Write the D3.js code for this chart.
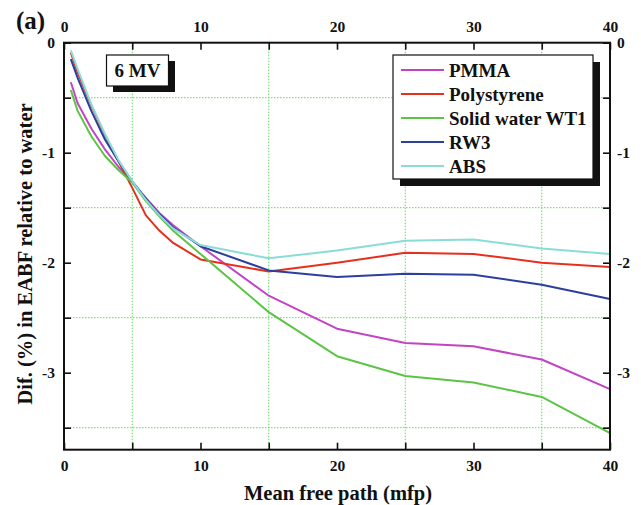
<!DOCTYPE html>
<html>
<head>
<meta charset="utf-8">
<script src="https://cdn.jsdelivr.net/npm/d3@7"></script>
<style>
  html, body { margin: 0; padding: 0; background: #fff; }
  svg { display: block; }
  text { font-family: "Liberation Serif", "Times New Roman", serif; font-weight: bold; fill: #111; }
</style>
</head>
<body>
<script>
// Mean free path depths (mfp)
const mfp = [0.5, 1, 2, 3, 4, 5, 6, 7, 8, 10, 15, 20, 25, 30, 35, 40];

// Difference (%) in EABF relative to water, 6 MV
const pmma        = [-0.36, -0.55, -0.78, -0.97, -1.13, -1.27, -1.41, -1.55, -1.66, -1.85, -2.30, -2.60, -2.73, -2.76, -2.88, -3.15];
const polystyrene = [-0.09, -0.27, -0.57, -0.84, -1.08, -1.32, -1.57, -1.71, -1.82, -1.97, -2.08, -2.00, -1.91, -1.92, -2.00, -2.04];
const solidWater  = [-0.43, -0.62, -0.85, -1.03, -1.16, -1.27, -1.44, -1.58, -1.71, -1.92, -2.45, -2.85, -3.03, -3.09, -3.22, -3.55];
const rw3         = [-0.15, -0.32, -0.62, -0.88, -1.08, -1.26, -1.42, -1.56, -1.68, -1.85, -2.07, -2.13, -2.10, -2.11, -2.20, -2.33];
const abs         = [-0.07, -0.24, -0.56, -0.83, -1.07, -1.26, -1.43, -1.57, -1.69, -1.84, -1.96, -1.89, -1.80, -1.79, -1.87, -1.92];

const seriesNames  = ["PMMA", "Polystyrene", "Solid water WT1", "RW3", "ABS"];
const seriesValues = [pmma, polystyrene, solidWater, rw3, abs];
const seriesColors = ["#c244c4", "#e6301f", "#5cc444", "#2a3f9e", "#8adcd6"];

const xTicks = [0, 10, 20, 30, 40];
const yTicks = [0, -1, -2, -3];
const xMinorTicks = [5, 15, 25, 35];
const yMinorTicks = [-0.5, -1.5, -2.5, -3.5];

const W = 641, H = 505;
const pL = 64, pR = 610, pT = 42.7, pB = 449.7;

const svg = d3.select("body").append("svg").attr("width", W).attr("height", H);

const x = d3.scaleLinear().domain([0, 40]).range([pL, pR]);
const y = d3.scaleLinear().domain([-3.7, 0]).range([pB, pT]);

// dotted grid at the half steps
const grid = svg.append("g").attr("stroke", "#5fd85f").attr("stroke-width", 1)
  .attr("stroke-dasharray", "1.5,1.5").attr("fill", "none");
grid.selectAll("line.v").data(xMinorTicks).join("line").attr("class", "v")
  .attr("x1", d => x(d)).attr("x2", d => x(d)).attr("y1", pT).attr("y2", pB);
grid.selectAll("line.h").data(yMinorTicks).join("line").attr("class", "h")
  .attr("y1", d => y(d)).attr("y2", d => y(d)).attr("x1", pL).attr("x2", pR);

// data curves
const line = d3.line().x((d, i) => x(mfp[i])).y(d => y(d));
svg.append("g").selectAll("path").data(seriesValues).join("path")
  .attr("d", d => line(d))
  .attr("fill", "none")
  .attr("stroke", (d, i) => seriesColors[i])
  .attr("stroke-width", 2)
  .attr("stroke-linejoin", "round");

// axes on all four sides, ticks pointing inward
const allX = xTicks.concat(xMinorTicks);
const allY = yTicks.concat(yMinorTicks);
const tickLen = 7;
const fmt = d => String(d);

const axB = svg.append("g").attr("transform", `translate(0,${pB})`)
  .call(d3.axisBottom(x).tickValues(allX).tickSizeInner(-tickLen).tickSizeOuter(0).tickFormat(d => xTicks.includes(d) ? fmt(d) : ""));
const axT = svg.append("g").attr("transform", `translate(0,${pT})`)
  .call(d3.axisTop(x).tickValues(allX).tickSizeInner(-tickLen).tickSizeOuter(0).tickFormat(d => xTicks.includes(d) ? fmt(d) : ""));
const axL = svg.append("g").attr("transform", `translate(${pL},0)`)
  .call(d3.axisLeft(y).tickValues(allY).tickSizeInner(-tickLen).tickSizeOuter(0).tickFormat(d => yTicks.includes(d) ? fmt(d) : ""));
const axR = svg.append("g").attr("transform", `translate(${pR},0)`)
  .call(d3.axisRight(y).tickValues(allY).tickSizeInner(-tickLen).tickSizeOuter(0).tickFormat(d => yTicks.includes(d) ? fmt(d) : ""));

[axB, axT, axL, axR].forEach(g => {
  g.select(".domain").remove();
  g.selectAll(".tick line").attr("stroke", "#111").attr("stroke-width", 1.6);
  g.selectAll(".tick text").attr("font-family", "Liberation Serif").attr("font-weight", "bold")
    .attr("font-size", 15.5).attr("fill", "#111");
});
axB.selectAll(".tick text").attr("y", 10);
axT.selectAll(".tick text").attr("y", -11);
axL.selectAll(".tick text").attr("x", -9);
axR.selectAll(".tick text").attr("x", 7);

// frame
svg.append("rect").attr("x", pL).attr("y", pT).attr("width", pR - pL).attr("height", pB - pT)
  .attr("fill", "none").attr("stroke", "#111").attr("stroke-width", 2);

// axis titles
svg.append("text").attr("x", 338).attr("y", 500)
  .attr("text-anchor", "middle").attr("font-size", 20.5).text("Mean free path (mfp)");
svg.append("text").attr("transform", `translate(32,254) rotate(-90)`)
  .attr("text-anchor", "middle").attr("font-size", 20.5).text("Dif. (%) in EABF relative to water");

// panel letter
svg.append("text").attr("x", 16).attr("y", 29).attr("font-size", 25).text("(a)");

// energy box
const eb = svg.append("g");
eb.append("rect").attr("x", 113).attr("y", 61).attr("width", 62).attr("height", 31).attr("fill", "#111");
eb.append("rect").attr("x", 106.5).attr("y", 55).attr("width", 62).attr("height", 31)
  .attr("fill", "#fff").attr("stroke", "#111").attr("stroke-width", 1.2);
eb.append("text").attr("x", 137.5).attr("y", 77).attr("text-anchor", "middle").attr("font-size", 19).text("6 MV");

// legend
const lg = svg.append("g");
const lgX = 393, lgY = 55, lgW = 200, lgH = 124;
lg.append("rect").attr("x", lgX + 7).attr("y", lgY + 7).attr("width", lgW).attr("height", lgH).attr("fill", "#111");
lg.append("rect").attr("x", lgX).attr("y", lgY).attr("width", lgW).attr("height", lgH)
  .attr("fill", "#fff").attr("stroke", "#111").attr("stroke-width", 1.2);
const items = lg.selectAll("g.item").data(seriesNames).join("g").attr("class", "item")
  .attr("transform", (d, i) => `translate(0,${lgY + 15 + i * 24})`);
items.append("line").attr("x1", lgX + 8).attr("x2", lgX + 51).attr("y1", 0).attr("y2", 0)
  .attr("stroke", (d, i) => seriesColors[i]).attr("stroke-width", 2);
items.append("text").attr("x", lgX + 56).attr("y", 6.5).attr("font-size", 19).text(d => d);
</script>
</body>
</html>
